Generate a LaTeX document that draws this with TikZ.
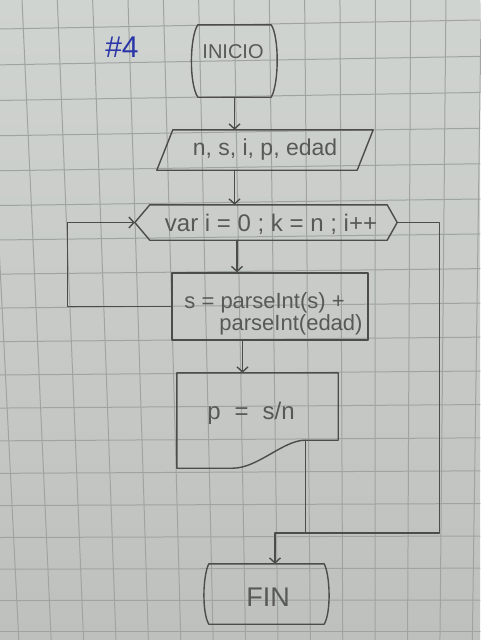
\documentclass[tikz,border=0pt]{standalone}
\usepackage{fontspec}
\setmainfont{Liberation Sans}
\usetikzlibrary{arrows.meta,calc}
\definecolor{paperT}{HTML}{D0D4D1}
\definecolor{paperB}{HTML}{BEC0BD}
\definecolor{gridc}{HTML}{A0A4A1}
\definecolor{pencil}{HTML}{4C4C4C}
\definecolor{pentext}{HTML}{585858}
\definecolor{inkblue}{HTML}{2A36A8}
\tikzset{
  gridline/.style={draw=gridc, line width=1pt},
  pen/.style={draw=pencil, line width=1.4pt},
  arr/.style={pen, -{Straight Barb[length=5pt,width=11pt]}},
  box/.style={draw=none, rectangle, inner sep=0pt},
  txt/.style={text=pentext, inner sep=0pt},
}
\begin{document}
\begin{tikzpicture}[x=1pt,y=-1pt,line join=round,line cap=round]
\useasboundingbox (0,0) rectangle (480,640);
% paper
\shade[top color=paperT, bottom color=paperB] (0,0) rectangle (480,640);
\foreach \k in {-1,...,13} {
  \pgfmathsetmacro\xt{22+35.33*\k}
  \pgfmathsetmacro\xb{0.917*\xt+31}
  \draw[gridline] (\xt,0) -- (\xb,640);
}
\foreach \j in {0,...,18} {
  \pgfmathsetmacro\yl{29+36*\j-0.14*\j*\j}
  \pgfmathsetmacro\yr{\yl-9+0.5*\j}
  \draw[gridline] (0,\yl) -- (480,\yr);
}
% title
\node[text=inkblue, inner sep=0pt, font=\fontsize{30}{30}\selectfont] (title) at (122,47) {\#4};
% INICIO
\node[box, minimum width=73pt, minimum height=72pt] (inicio) at (234.5,61) {};
\node[txt, font=\fontsize{20}{20}\selectfont] (tinicio) at (233,52) {INICIO};
\draw[pen] (inicio.north west) -- (inicio.north east)
  .. controls +(8,12) and +(8,-14) .. (inicio.south east) -- (inicio.south west)
  .. controls +(-9,-14) and +(-8,12) .. (inicio.north west);
% input
\node[box, minimum width=200pt, minimum height=40pt, text=pentext, font=\fontsize{23}{23}\selectfont] (input) at (265,150) {n, s, i, p, edad};
\draw[pen] ([xshift=8pt]input.north west) -- ([xshift=8pt]input.north east) -- ([xshift=-8pt]input.south east) -- ([xshift=-8pt]input.south west) -- cycle;
% loop
\node[box, minimum width=262pt, minimum height=35pt] (loop) at (266,222.5) {};
\node[txt, font=\fontsize{24}{24}\selectfont] (tloop) at (271,224) {var i = 0 ; k = n ; i++};
\draw[pen] (loop.west) -- ([xshift=15pt]loop.north west) -- ([xshift=-10pt]loop.north east) -- (loop.east) -- ([xshift=-10pt]loop.south east) -- ([xshift=15pt]loop.south west) -- cycle;
% process
\node[pen, rectangle, inner sep=0pt, minimum width=196pt, minimum height=67pt] (proc) at (270,306.5) {};
\node[txt, font=\fontsize{22}{19}\selectfont, align=left] (tproc) at (273.5,314) {s = parseInt(s) +\\\hspace*{35pt}parseInt(edad)};
% document
\node[box, minimum width=161pt, minimum height=95pt] (doc) at (257.5,420.5) {};
\node[txt, font=\fontsize{24}{24}\selectfont] (tdoc) at (251,413) {p\hspace{14pt}=\hspace{14pt}s/n};
\coordinate (docout) at ([xshift=-33pt,yshift=28pt]doc.south east);
\draw[pen] (doc.south west) -- (doc.north west) -- (doc.north east) -- ([yshift=28pt]doc.south east) -- (docout)
  .. controls +(-22,0) and +(25,0) .. ([xshift=56pt]doc.south west) -- (doc.south west);
% FIN
\node[box, minimum width=115pt, minimum height=60pt] (fin) at (266.5,594) {};
\node[txt, font=\fontsize{27}{27}\selectfont] (tfin) at (268,597) {FIN};
\draw[pen] (fin.north west) -- (fin.north east)
  .. controls +(6,12) and +(7,-12) .. (fin.south east) -- (fin.south west)
  .. controls +(-7,-12) and +(-6,12) .. (fin.north west);
% connectors
\coordinate (join) at (275,533);
\draw[arr] (inicio.south) -- (inicio.south |- input.north);
\draw[arr] (inicio.south |- input.south) -- (inicio.south |- loop.north);
\draw[arr] ([xshift=2.5pt]inicio.south |- loop.south) -- ([xshift=2.5pt]inicio.south |- proc.north);
\draw[arr] ([xshift=8pt]inicio.south |- proc.south) -- ([xshift=8pt]inicio.south |- doc.north);
\draw[arr] (proc.west) -- ++(-104pt,0) |- (loop.west);
\draw[pen] (loop.east) -- ++(42pt,0) |- (join);
\draw[pen] (docout) -- (docout |- join);
\draw[arr] (join) -- (join |- fin.north);
\end{tikzpicture}
\end{document}
